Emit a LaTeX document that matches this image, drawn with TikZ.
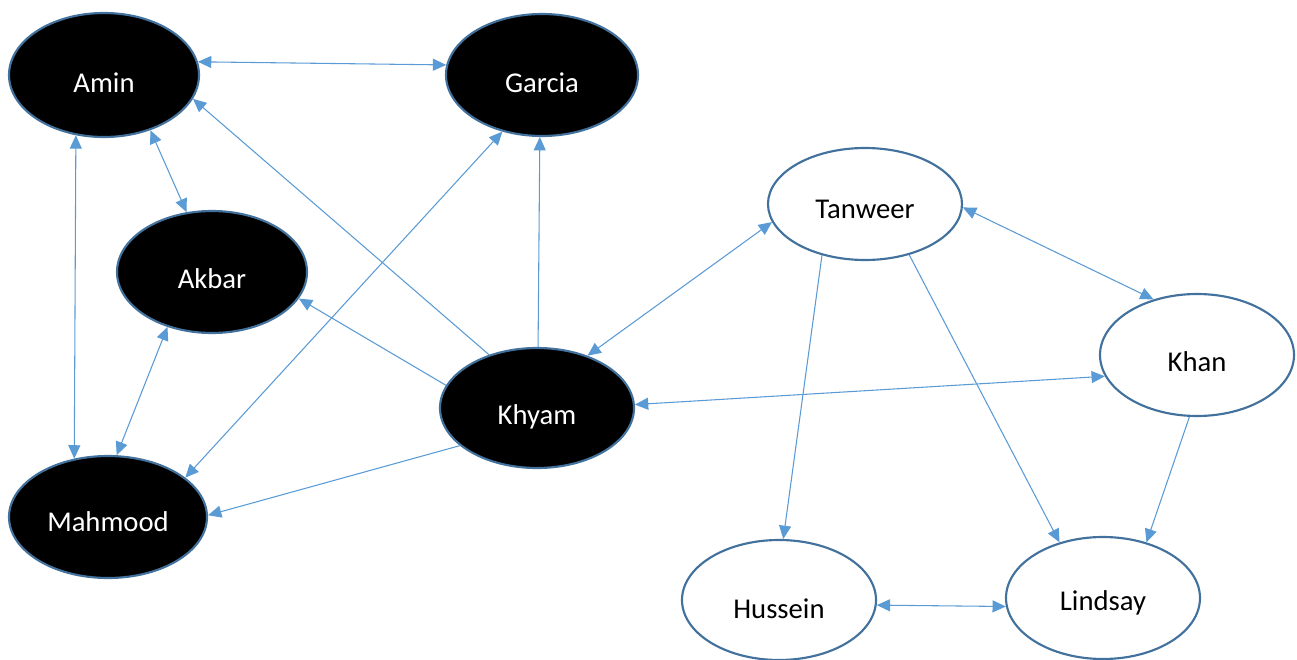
\documentclass[tikz,border=0pt]{standalone}
\usepackage{fontspec}
\setmainfont{Carlito}
\usepackage{tikz}
\usetikzlibrary{shapes.geometric, arrows.meta}
\definecolor{myblue}{HTML}{5B9BD5}
\definecolor{mydarkblue}{HTML}{41719C}
\tikzset{
	person/.style={ellipse, draw=mydarkblue, line width=1.6pt, inner sep=0pt, font=\fontsize{21.5}{24}\selectfont, text height=24pt, text depth=0pt, minimum width=145.5pt, minimum height=91.5pt},
	blackperson/.style={person, fill=black, text=white},
	whiteperson/.style={person, fill=white, text=black},
	link/.style={draw=myblue, line width=0.8pt, -{Triangle[length=10pt,width=9pt]}},
	twolink/.style={link, {Triangle[length=10pt,width=9pt]}-{Triangle[length=10pt,width=9pt]}}
}

\begin{document}
\begin{tikzpicture}[x=0.75pt, y=-0.75pt]
			\useasboundingbox (0,0) rectangle (1297,660);
			\node [blackperson, minimum width=142.5pt, minimum height=93pt, text height=27pt] (amin) at (104,75) {Amin};
			\node [blackperson, minimum width=144pt, text height=27pt] (garcia) at (542,75) {Garcia};
			\node [blackperson, minimum width=142.5pt] (akbar) at (212,272) {Akbar};
			\node [blackperson, minimum width=148.5pt, text height=21pt] (mahmood) at (108,517) {Mahmood};
			\node [blackperson, minimum height=90pt] (khyam) at (537,408) {Khyam};
			\node [whiteperson, minimum height=84pt, text height=21pt] (tanweer) at (865,204) {Tanweer};
			\node [whiteperson] (khan) at (1197,355) {Khan};
			\node [whiteperson, minimum height=90pt, text height=27pt] (hussein) at (779,600) {Hussein};
			\node [whiteperson, text height=18pt] (lindsay) at (1103,598) {Lindsay};
			\draw [twolink] (amin.8) -- (garcia.174);
			\draw [link] (khyam.132) -- (amin.-15);
			\draw [twolink] (amin.-50) -- (akbar.113);
			\draw [twolink] (amin.-115) -- (mahmood.120);
			\draw [twolink] (akbar.-129) -- (mahmood.82);
			\draw [twolink] (garcia.-125) -- (mahmood.27);
			\draw [link] (khyam.89) -- (garcia.-92);
			\draw [link] (khyam.166) -- (akbar.-17);
			\draw [link] (khyam.-154) -- (mahmood.1);
			\draw [twolink] (khyam.46) -- (tanweer.-169);
			\draw [twolink] (khyam.2) -- (khan.-167);
			\draw [twolink] (tanweer.-2) -- (khan.128);
			\draw [link] (tanweer.-130) -- (hussein.86);
			\draw [link] (tanweer.-49) -- (lindsay.128);
			\draw [link] (khan.-97) -- (lindsay.52);
			\draw [twolink] (hussein.-3) -- (lindsay.-175);
		\end{tikzpicture}
\end{document}
